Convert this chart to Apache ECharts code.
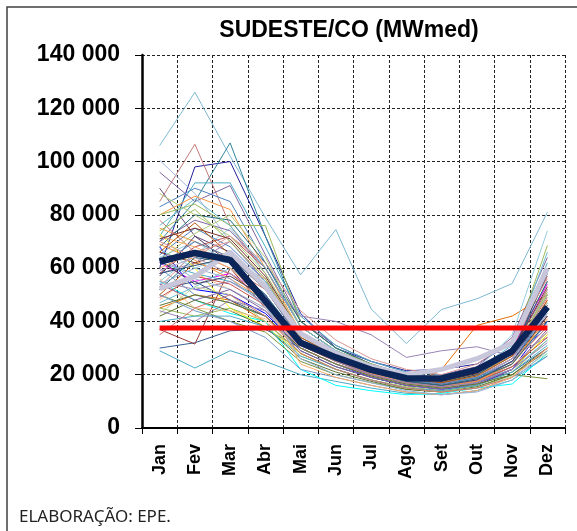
<!DOCTYPE html>
<html>
<head>
<meta charset="utf-8">
<script src="https://cdn.jsdelivr.net/npm/echarts@6/dist/echarts.min.js"></script>
<style>
  html, body { margin: 0; padding: 0; background: #fff; }
  #main { width: 577px; height: 531px; }
</style>
</head>
<body>
<div id="main"></div>
<script>
// meses do eixo x
var meses = ['Jan', 'Fev', 'Mar', 'Abr', 'Mai', 'Jun', 'Jul', 'Ago', 'Set', 'Out', 'Nov', 'Dez'];

// media de longo termo (mil MWmed)
var media = [62.5, 65.7, 63.1, 47.6, 32, 26.5, 21.8, 18.7, 18.6, 21.8, 28.8, 45.4];
// linha cinza espessa
var anoDestaque = [52.3, 56.8, 66, 53, 35.5, 28, 23, 20, 22, 26, 31.8, 60];
// nivel em vermelho
var nivelVermelho = [37.5, 37.5, 37.5, 37.5, 37.5, 37.5, 37.5, 37.5, 37.5, 37.5, 37.5, 37.5];

// historico anual (mil MWmed), um ano por linha
var historico = [
  [106, 126, 102, 79, 57.5, 74.5, 44.7, 31.7, 44.5, 48.5, 54.2, 81],
  [60, 98, 100, 72, 43, 30, 25, 21.5, 22, 24, 32, 40],
  [70, 85, 107, 72, 40, 30, 24, 20, 19, 22, 30, 46],
  [85, 106.5, 76, 58, 36, 28, 23, 19.5, 18, 21, 28, 44],
  [100.5, 88, 70, 55, 34, 27, 22, 19, 17.5, 19, 26, 50],
  [96, 85, 91, 65, 40, 31, 25, 21, 20, 23, 34, 64],
  [90, 72, 66, 52, 33, 26, 21.5, 18.5, 17, 20, 27, 42],
  [83, 90, 85, 62, 38, 29, 23.5, 20, 19, 21, 29, 55],
  [72, 92, 92, 68, 42, 31, 25, 21, 20, 22, 31, 62],
  [80, 87, 82, 60, 36, 28, 22.5, 19, 17.5, 20, 27, 48],
  [80, 84, 76, 76, 40, 30, 24, 20, 18.5, 21, 30, 68.5],
  [29, 22.5, 29, 25, 20, 17.5, 15, 13, 12.5, 14, 18, 27],
  [30, 32, 36.5, 37, 30, 24, 20, 17, 15, 17, 21, 30],
  [37, 31.5, 60, 45, 30, 24, 19.5, 16.5, 15, 17, 22, 35],
  [55, 48, 43, 40, 22, 16, 14, 12.5, 13, 15, 16.5, 28],
  [50, 45, 40, 36, 25, 20, 17, 14.5, 13.5, 15, 20, 18.5],
  [45, 50, 48, 40, 28, 22, 18, 15, 22, 38.5, 42, 50],
  [58, 62, 70, 55, 42, 40, 35, 26.5, 29, 30.5, 27, 34],
  [64, 70, 62, 50, 33, 27, 22, 19, 18, 22, 35, 74],
  [73, 60, 45, 38, 28, 22, 18, 15, 14, 16, 22, 35],
  [62, 55, 58, 50, 30, 24, 20, 17, 15.5, 22, 30, 54],
  [68, 52, 50, 43, 30, 24, 19, 16, 14.5, 16, 22, 40],
  [55, 65, 75, 58, 35, 27, 22, 18.5, 17, 19, 26, 45],
  [48, 58, 52, 45, 30, 24, 20, 17, 16, 18, 24, 38],
  [65, 75, 68, 55, 36, 28, 23, 19.5, 18, 20, 28, 50],
  [58, 68, 72, 60, 38, 29, 24, 20, 18.5, 21, 30, 57],
  [45, 42, 45, 40, 28, 22, 18, 15.5, 14, 16, 21, 33],
  [70, 78, 74, 60, 38, 29, 23, 19.5, 18, 21, 29, 52],
  [62, 58, 55, 48, 32, 25, 20.5, 17.5, 16, 18.5, 25, 43],
  [75, 70, 64, 52, 34, 27, 22, 18.5, 17, 19.5, 27, 47],
  [52, 55, 48, 42, 29, 23, 19, 16, 15, 17, 23, 36],
  [66, 62, 66, 54, 35, 27, 22, 18.5, 17.5, 20, 27, 46],
  [42, 48, 44, 38, 26, 21, 17.5, 14.5, 13.5, 15.5, 20, 30],
  [57, 72, 62, 50, 32, 26, 21, 18, 16.5, 19, 26, 44],
  [68, 80, 78, 62, 40, 30, 24, 20, 18, 21, 29, 55],
  [50, 62, 58, 48, 31, 25, 20.5, 17.5, 16, 18, 24, 42],
  [60, 50, 47, 42, 30, 24, 19.5, 16.5, 15, 17, 24, 40],
  [78, 66, 60, 52, 34, 27, 22, 18.5, 17, 20, 28, 49],
  [63, 73, 80, 64, 38, 29, 24, 20, 18.5, 21, 28, 50],
  [55, 52, 55, 47, 30, 24, 20, 17, 15.5, 18, 25, 38],
  [47, 53, 60, 50, 32, 25, 20.5, 17, 15.5, 17.5, 22, 33],
  [72, 68, 62, 56, 36, 28, 23, 19, 17.5, 20, 27, 45],
  [64, 56, 52, 45, 31, 25, 20.5, 17.5, 16, 18, 25, 39],
  [53, 66, 70, 56, 35, 27, 22, 18.5, 17, 19.5, 26, 52],
  [43, 53, 50, 40, 27, 22, 18, 15, 13.5, 15, 19.5, 28],
  [59, 64, 58, 50, 33, 26, 21.5, 18, 16.5, 19, 26, 43],
  [67, 60, 65, 55, 34, 27, 22, 18.5, 17, 19.5, 27, 47],
  [56, 45, 44, 41, 30, 24, 19.5, 16.5, 15, 17.5, 23, 36],
  [61, 70, 64, 52, 33, 26, 21, 18, 16.5, 19, 25, 44],
  [49, 57, 54, 46, 31, 25, 20, 17, 15.5, 17.5, 23, 34],
  [74, 82, 70, 56, 35, 28, 23, 19, 17.5, 20, 28, 51],
  [54, 48, 52, 44, 29, 23, 19, 16, 14.5, 16.5, 22, 37],
  [40, 42, 42, 38, 27, 22, 18, 15, 14, 16, 21, 31],
  [69, 63, 56, 48, 32, 25, 20.5, 17, 15.5, 17.5, 24, 41],
  [58, 61, 64, 53, 35, 27, 22, 18.5, 17, 20, 28, 58],
  [71, 75, 71, 57, 36, 28, 23, 19, 17.5, 20.5, 29, 53],
  [46, 50, 47, 42, 30, 24, 19.5, 16.5, 15, 16.5, 20, 29],
  [63, 54, 57, 49, 33, 26, 21, 17.5, 16, 18, 25, 42],
  [52, 64, 62, 50, 33, 26, 21, 17.5, 16, 18.5, 24, 40],
  [66, 77, 65, 52, 34, 27, 22, 18.5, 17, 19.5, 27, 48],
  [50, 44, 40, 34, 22, 19, 16, 13.5, 12.5, 14, 19, 27],
  [35, 45, 50, 42, 28, 22, 18, 15, 13.5, 15, 19, 30],
  [88, 80, 72, 58, 36, 28, 23, 19.5, 18, 21, 30, 60],
  [44, 40, 48, 44, 32, 25, 20, 17, 15.5, 17, 22, 32],
  [76, 86, 76, 60, 38, 29, 23.5, 20, 18, 21, 30, 66],
  [60, 66, 60, 48, 24, 19, 16, 13.5, 12.5, 14, 19, 30],
  [54, 60, 56, 46, 26, 20, 17, 14, 12.5, 13.5, 18, 29],
  [70, 64, 72, 62, 44, 33, 26, 22, 20, 24, 33, 56]
];

// cores das primeiras linhas (as mais visiveis) e paleta para o resto
var coresDestaque = ['#7FB9D3', '#1F1F9A', '#31859C', '#C47A78', '#A4B6DC', '#8064A2', '#604A7B', '#4F81BD',
  '#4BACC6', '#F79646', '#9BBB59', '#4BACC6', '#376092', '#953735', '#00FFFF', '#77933C', '#E46C0A',
  '#9983B5', '#93CDDD', '#FFFF00', '#FF00FF', '#0000FF'];
var paleta = ['#4F81BD', '#C0504D', '#9BBB59', '#8064A2', '#4BACC6', '#F79646', '#2C4D75', '#772C2A',
  '#5F7530', '#4D3B62', '#276A7C', '#B65708', '#729ACA', '#CD7371', '#AFC97A', '#9983B5', '#6FBDD1',
  '#F9AB6B', '#95B3D7', '#D99694', '#C3D69B', '#B2A1C7', '#93CDDD', '#FAC090'];

var myChart = echarts.init(document.getElementById('main'));

function milhar(v) {
  return String(Math.round(v * 1000)).replace(/\B(?=(\d{3})+(?!\d))/g, ' ');
}

var series = [];
historico.forEach(function (linha, i) {
  series.push({
    type: 'line',
    data: linha,
    symbol: 'none',
    silent: true,
    lineStyle: {
      width: 1,
      color: i < coresDestaque.length ? coresDestaque[i] : paleta[i % paleta.length]
    },
    z: 2
  });
});
// linha cinza espessa
series.push({
  type: 'line', data: anoDestaque, symbol: 'none', silent: true,
  lineStyle: { width: 5, color: '#C8C6DA' }, z: 3
});
// media
series.push({
  type: 'line', data: media, symbol: 'none', silent: true,
  lineStyle: { width: 6.5, color: '#0B2559' }, z: 4
});
// nivel vermelho
series.push({
  type: 'line', data: nivelVermelho, symbol: 'none', silent: true,
  lineStyle: { width: 5, color: '#FF0000' }, z: 5
});

myChart.setOption({
  animation: false,
  grid: { left: 142, right: 12, top: 55, bottom: 103 },
  xAxis: {
    type: 'category',
    data: meses,
    boundaryGap: true,
    axisLine: { show: true, lineStyle: { color: '#000', width: 2 } },
    axisTick: { show: true, length: 6, lineStyle: { color: '#000', width: 1 } },
    axisLabel: {
      rotate: 90, margin: 16, color: '#000', fontSize: 18, fontWeight: 'bold',
      fontFamily: 'Liberation Sans, Arial, sans-serif', interval: 0
    },
    splitLine: { show: true, lineStyle: { color: '#222', width: 1, type: [3, 2] } }
  },
  yAxis: {
    type: 'value',
    min: 0,
    max: 140,
    interval: 20,
    axisLine: { show: true, lineStyle: { color: '#000', width: 2.5 } },
    axisTick: { show: true, length: 7, lineStyle: { color: '#000', width: 1 } },
    axisLabel: {
      margin: 22, color: '#000', fontSize: 23, fontWeight: 'bold',
      fontFamily: 'Liberation Sans, Arial, sans-serif',
      formatter: milhar
    },
    splitLine: { show: true, lineStyle: { color: '#222', width: 1, type: [3, 2] } }
  },
  graphic: [
    {
      type: 'rect', silent: true,
      shape: { x: 7, y: 7, width: 640, height: 640 },
      style: { fill: 'none', stroke: '#404040', lineWidth: 1.5 }
    },
    {
      type: 'text', x: 349, y: 31, silent: true,
      style: {
        text: 'SUDESTE/CO (MWmed)', fill: '#000', align: 'center', verticalAlign: 'middle',
        font: 'bold 23px "Liberation Sans", Arial, sans-serif'
      }
    },
    {
      type: 'text', x: 19, y: 517, silent: true,
      style: {
        text: 'ELABORAÇÃO: EPE.', fill: '#222', align: 'left', verticalAlign: 'middle',
        font: '17px "Noto Sans", sans-serif'
      }
    }
  ],
  series: series
});
</script>
</body>
</html>
